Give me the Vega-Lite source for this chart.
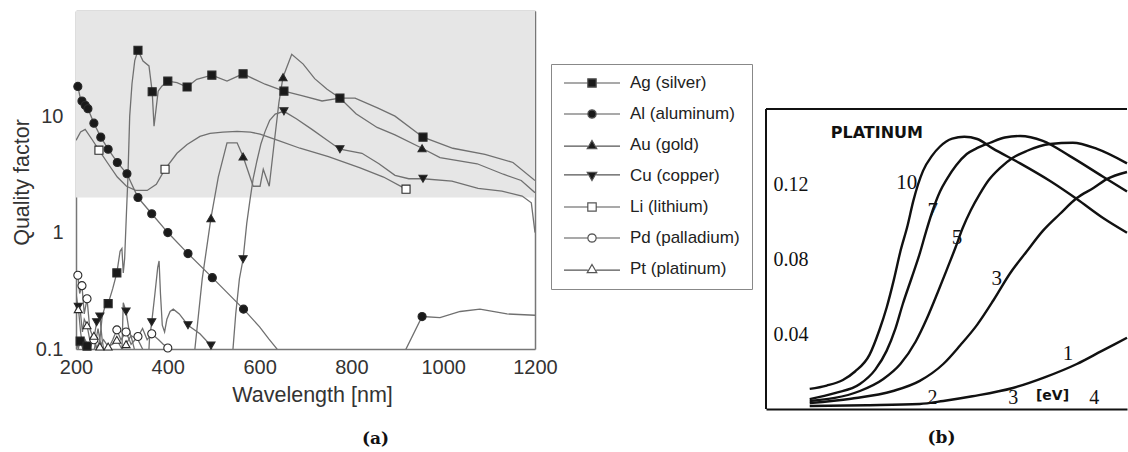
{
  "$schema": "https://vega.github.io/schema/vega-lite/v6.json",
  "background": "white",
  "padding": {"left": 11, "top": 1, "right": 0, "bottom": 0},
  "spacing": 231,
  "bounds": "flush",
  "config": {"view": {"stroke": null}, "font": "Liberation Sans", "axis": {"grid": false}},
  "datasets": {
    "qa": [
      {"s":"Ag (silver)","w":200,"q":0.12,"m":0},{"s":"Ag (silver)","w":205,"q":0.1,"m":0},{"s":"Ag (silver)","w":209,"q":0.117,"m":1},{"s":"Ag (silver)","w":215,"q":0.1,"m":0},{"s":"Ag (silver)","w":224,"q":0.106,"m":1},{"s":"Ag (silver)","w":232,"q":0.09,"m":0},{"s":"Ag (silver)","w":240,"q":0.1,"m":0},{"s":"Ag (silver)","w":248,"q":0.15,"m":0},{"s":"Ag (silver)","w":252,"q":0.12,"m":0},{"s":"Ag (silver)","w":257,"q":0.19,"m":0},{"s":"Ag (silver)","w":263,"q":0.23,"m":0},{"s":"Ag (silver)","w":270,"q":0.245,"m":1},{"s":"Ag (silver)","w":280,"q":0.33,"m":0},{"s":"Ag (silver)","w":289,"q":0.45,"m":1},{"s":"Ag (silver)","w":296,"q":0.69,"m":0},{"s":"Ag (silver)","w":300,"q":0.73,"m":0},{"s":"Ag (silver)","w":303,"q":0.45,"m":0},{"s":"Ag (silver)","w":306,"q":0.6,"m":0},{"s":"Ag (silver)","w":310,"q":1.5,"m":0},{"s":"Ag (silver)","w":313,"q":2.9,"m":0},{"s":"Ag (silver)","w":317,"q":10,"m":0},{"s":"Ag (silver)","w":322,"q":19,"m":0},{"s":"Ag (silver)","w":328,"q":30,"m":0},{"s":"Ag (silver)","w":335,"q":36.8,"m":1},{"s":"Ag (silver)","w":346,"q":29.7,"m":0},{"s":"Ag (silver)","w":359,"q":27,"m":0},{"s":"Ag (silver)","w":366,"q":16.2,"m":1},{"s":"Ag (silver)","w":370,"q":8.2,"m":0},{"s":"Ag (silver)","w":379,"q":16.4,"m":0},{"s":"Ag (silver)","w":387,"q":18.1,"m":0},{"s":"Ag (silver)","w":400,"q":20,"m":1},{"s":"Ag (silver)","w":420,"q":19.4,"m":0},{"s":"Ag (silver)","w":442,"q":17.8,"m":1},{"s":"Ag (silver)","w":463,"q":20.7,"m":0},{"s":"Ag (silver)","w":496,"q":22.5,"m":1},{"s":"Ag (silver)","w":529,"q":20,"m":0},{"s":"Ag (silver)","w":564,"q":23.1,"m":1},{"s":"Ag (silver)","w":612,"q":18.8,"m":0},{"s":"Ag (silver)","w":653,"q":16.4,"m":1},{"s":"Ag (silver)","w":692,"q":15,"m":0},{"s":"Ag (silver)","w":736,"q":13.5,"m":0},{"s":"Ag (silver)","w":775,"q":14.3,"m":1},{"s":"Ag (silver)","w":808,"q":14.3,"m":0},{"s":"Ag (silver)","w":858,"q":11.7,"m":0},{"s":"Ag (silver)","w":895,"q":10,"m":0},{"s":"Ag (silver)","w":956,"q":6.6,"m":1},{"s":"Ag (silver)","w":1021,"q":5.3,"m":0},{"s":"Ag (silver)","w":1091,"q":4.7,"m":0},{"s":"Ag (silver)","w":1152,"q":4.0,"m":0},{"s":"Ag (silver)","w":1200,"q":2.8,"m":0},
      {"s":"Al (aluminum)","w":200,"q":19.5,"m":0},{"s":"Al (aluminum)","w":204,"q":18,"m":1},{"s":"Al (aluminum)","w":209,"q":14.5,"m":0},{"s":"Al (aluminum)","w":213,"q":13.5,"m":1},{"s":"Al (aluminum)","w":220,"q":12.4,"m":1},{"s":"Al (aluminum)","w":226,"q":11.6,"m":1},{"s":"Al (aluminum)","w":239,"q":8.7,"m":1},{"s":"Al (aluminum)","w":254,"q":6.6,"m":1},{"s":"Al (aluminum)","w":270,"q":5.2,"m":1},{"s":"Al (aluminum)","w":290,"q":4.0,"m":1},{"s":"Al (aluminum)","w":311,"q":3.2,"m":1},{"s":"Al (aluminum)","w":335,"q":2.0,"m":1},{"s":"Al (aluminum)","w":365,"q":1.45,"m":1},{"s":"Al (aluminum)","w":400,"q":1.0,"m":1},{"s":"Al (aluminum)","w":444,"q":0.66,"m":1},{"s":"Al (aluminum)","w":497,"q":0.41,"m":1},{"s":"Al (aluminum)","w":565,"q":0.22,"m":1},{"s":"Al (aluminum)","w":600,"q":0.155,"m":0},{"s":"Al (aluminum)","w":620,"q":0.122,"m":0},{"s":"Al (aluminum)","w":638,"q":0.1,"m":0},{"s":"Al (aluminum)","w":645,"q":0.08,"m":0},{"s":"Al (aluminum)","w":913,"q":0.08,"m":0},{"s":"Al (aluminum)","w":919,"q":0.1,"m":0},{"s":"Al (aluminum)","w":954,"q":0.19,"m":1},{"s":"Al (aluminum)","w":993,"q":0.186,"m":0},{"s":"Al (aluminum)","w":1037,"q":0.21,"m":0},{"s":"Al (aluminum)","w":1080,"q":0.22,"m":0},{"s":"Al (aluminum)","w":1139,"q":0.2,"m":0},{"s":"Al (aluminum)","w":1200,"q":0.195,"m":0},
      {"s":"Au (gold)","w":455,"q":0.08,"m":0},{"s":"Au (gold)","w":459,"q":0.1,"m":0},{"s":"Au (gold)","w":475,"q":0.4,"m":0},{"s":"Au (gold)","w":494,"q":1.33,"m":1},{"s":"Au (gold)","w":510,"q":3,"m":0},{"s":"Au (gold)","w":529,"q":5.9,"m":0},{"s":"Au (gold)","w":551,"q":5.9,"m":0},{"s":"Au (gold)","w":564,"q":4.5,"m":1},{"s":"Au (gold)","w":586,"q":2.5,"m":0},{"s":"Au (gold)","w":601,"q":2.5,"m":0},{"s":"Au (gold)","w":608,"q":3.5,"m":0},{"s":"Au (gold)","w":621,"q":2.5,"m":0},{"s":"Au (gold)","w":632,"q":6,"m":0},{"s":"Au (gold)","w":642,"q":13,"m":0},{"s":"Au (gold)","w":651,"q":21.6,"m":1},{"s":"Au (gold)","w":670,"q":34,"m":0},{"s":"Au (gold)","w":695,"q":28,"m":0},{"s":"Au (gold)","w":720,"q":21,"m":0},{"s":"Au (gold)","w":747,"q":17,"m":0},{"s":"Au (gold)","w":775,"q":14.3,"m":0},{"s":"Au (gold)","w":810,"q":10.5,"m":0},{"s":"Au (gold)","w":856,"q":8.0,"m":0},{"s":"Au (gold)","w":895,"q":6.9,"m":0},{"s":"Au (gold)","w":954,"q":5.3,"m":1},{"s":"Au (gold)","w":993,"q":4.4,"m":0},{"s":"Au (gold)","w":1074,"q":3.9,"m":0},{"s":"Au (gold)","w":1131,"q":3.17,"m":0},{"s":"Au (gold)","w":1170,"q":2.8,"m":0},{"s":"Au (gold)","w":1200,"q":2.2,"m":0},
      {"s":"Cu (copper)","w":200,"q":0.22,"m":0},{"s":"Cu (copper)","w":205,"q":0.23,"m":1},{"s":"Cu (copper)","w":210,"q":0.14,"m":0},{"s":"Cu (copper)","w":215,"q":0.1,"m":0},{"s":"Cu (copper)","w":220,"q":0.12,"m":0},{"s":"Cu (copper)","w":230,"q":0.1,"m":0},{"s":"Cu (copper)","w":240,"q":0.13,"m":0},{"s":"Cu (copper)","w":245,"q":0.17,"m":1},{"s":"Cu (copper)","w":252,"q":0.19,"m":1},{"s":"Cu (copper)","w":257,"q":0.12,"m":0},{"s":"Cu (copper)","w":262,"q":0.09,"m":0},{"s":"Cu (copper)","w":268,"q":0.05,"m":0},{"s":"Cu (copper)","w":298,"q":0.05,"m":0},{"s":"Cu (copper)","w":303,"q":0.25,"m":0},{"s":"Cu (copper)","w":309,"q":0.21,"m":1},{"s":"Cu (copper)","w":315,"q":0.15,"m":0},{"s":"Cu (copper)","w":322,"q":0.12,"m":0},{"s":"Cu (copper)","w":330,"q":0.09,"m":0},{"s":"Cu (copper)","w":338,"q":0.05,"m":0},{"s":"Cu (copper)","w":355,"q":0.05,"m":0},{"s":"Cu (copper)","w":360,"q":0.12,"m":0},{"s":"Cu (copper)","w":365,"q":0.17,"m":1},{"s":"Cu (copper)","w":372,"q":0.3,"m":0},{"s":"Cu (copper)","w":378,"q":0.5,"m":0},{"s":"Cu (copper)","w":381,"q":0.57,"m":0},{"s":"Cu (copper)","w":384,"q":0.3,"m":0},{"s":"Cu (copper)","w":388,"q":0.16,"m":0},{"s":"Cu (copper)","w":393,"q":0.14,"m":0},{"s":"Cu (copper)","w":398,"q":0.18,"m":0},{"s":"Cu (copper)","w":405,"q":0.21,"m":0},{"s":"Cu (copper)","w":412,"q":0.22,"m":0},{"s":"Cu (copper)","w":425,"q":0.2,"m":0},{"s":"Cu (copper)","w":444,"q":0.16,"m":1},{"s":"Cu (copper)","w":470,"q":0.135,"m":0},{"s":"Cu (copper)","w":494,"q":0.107,"m":1},{"s":"Cu (copper)","w":500,"q":0.08,"m":0},{"s":"Cu (copper)","w":538,"q":0.08,"m":0},{"s":"Cu (copper)","w":542,"q":0.1,"m":0},{"s":"Cu (copper)","w":548,"q":0.2,"m":0},{"s":"Cu (copper)","w":556,"q":0.4,"m":0},{"s":"Cu (copper)","w":564,"q":0.59,"m":1},{"s":"Cu (copper)","w":572,"q":1.2,"m":0},{"s":"Cu (copper)","w":579,"q":1.9,"m":0},{"s":"Cu (copper)","w":586,"q":2.9,"m":0},{"s":"Cu (copper)","w":594,"q":4.1,"m":0},{"s":"Cu (copper)","w":603,"q":5.8,"m":0},{"s":"Cu (copper)","w":612,"q":7.4,"m":0},{"s":"Cu (copper)","w":622,"q":9.2,"m":0},{"s":"Cu (copper)","w":634,"q":10.4,"m":0},{"s":"Cu (copper)","w":653,"q":11,"m":1},{"s":"Cu (copper)","w":680,"q":9.5,"m":0},{"s":"Cu (copper)","w":714,"q":7.7,"m":0},{"s":"Cu (copper)","w":745,"q":6.3,"m":0},{"s":"Cu (copper)","w":775,"q":5.2,"m":1},{"s":"Cu (copper)","w":823,"q":4.8,"m":0},{"s":"Cu (copper)","w":860,"q":3.9,"m":0},{"s":"Cu (copper)","w":895,"q":3.1,"m":0},{"s":"Cu (copper)","w":925,"q":2.9,"m":0},{"s":"Cu (copper)","w":956,"q":2.9,"m":1},{"s":"Cu (copper)","w":1019,"q":2.77,"m":0},{"s":"Cu (copper)","w":1076,"q":2.4,"m":0},{"s":"Cu (copper)","w":1128,"q":2.27,"m":0},{"s":"Cu (copper)","w":1172,"q":2.06,"m":0},{"s":"Cu (copper)","w":1192,"q":1.8,"m":0},{"s":"Cu (copper)","w":1200,"q":1.0,"m":0},
      {"s":"Li (lithium)","w":200,"q":6.2,"m":0},{"s":"Li (lithium)","w":210,"q":7.3,"m":0},{"s":"Li (lithium)","w":220,"q":7.7,"m":0},{"s":"Li (lithium)","w":235,"q":6.3,"m":0},{"s":"Li (lithium)","w":250,"q":5.1,"m":1},{"s":"Li (lithium)","w":270,"q":3.9,"m":0},{"s":"Li (lithium)","w":290,"q":3.0,"m":0},{"s":"Li (lithium)","w":310,"q":2.5,"m":0},{"s":"Li (lithium)","w":330,"q":2.3,"m":0},{"s":"Li (lithium)","w":355,"q":2.3,"m":0},{"s":"Li (lithium)","w":375,"q":2.6,"m":0},{"s":"Li (lithium)","w":394,"q":3.5,"m":1},{"s":"Li (lithium)","w":420,"q":4.8,"m":0},{"s":"Li (lithium)","w":442,"q":5.7,"m":0},{"s":"Li (lithium)","w":470,"q":6.7,"m":0},{"s":"Li (lithium)","w":492,"q":7.1,"m":0},{"s":"Li (lithium)","w":520,"q":7.3,"m":0},{"s":"Li (lithium)","w":551,"q":7.4,"m":0},{"s":"Li (lithium)","w":580,"q":7.3,"m":0},{"s":"Li (lithium)","w":601,"q":7.0,"m":0},{"s":"Li (lithium)","w":640,"q":6.2,"m":0},{"s":"Li (lithium)","w":688,"q":5.3,"m":0},{"s":"Li (lithium)","w":750,"q":4.5,"m":0},{"s":"Li (lithium)","w":819,"q":3.6,"m":0},{"s":"Li (lithium)","w":870,"q":3.0,"m":0},{"s":"Li (lithium)","w":919,"q":2.36,"m":1},
      {"s":"Pd (palladium)","w":200,"q":0.45,"m":0},{"s":"Pd (palladium)","w":204,"q":0.43,"m":1},{"s":"Pd (palladium)","w":208,"q":0.3,"m":0},{"s":"Pd (palladium)","w":213,"q":0.35,"m":1},{"s":"Pd (palladium)","w":218,"q":0.2,"m":0},{"s":"Pd (palladium)","w":224,"q":0.27,"m":1},{"s":"Pd (palladium)","w":230,"q":0.15,"m":0},{"s":"Pd (palladium)","w":239,"q":0.12,"m":1},{"s":"Pd (palladium)","w":245,"q":0.1,"m":0},{"s":"Pd (palladium)","w":252,"q":0.12,"m":0},{"s":"Pd (palladium)","w":260,"q":0.09,"m":0},{"s":"Pd (palladium)","w":270,"q":0.1,"m":0},{"s":"Pd (palladium)","w":280,"q":0.12,"m":0},{"s":"Pd (palladium)","w":289,"q":0.146,"m":1},{"s":"Pd (palladium)","w":298,"q":0.12,"m":0},{"s":"Pd (palladium)","w":309,"q":0.14,"m":1},{"s":"Pd (palladium)","w":320,"q":0.11,"m":0},{"s":"Pd (palladium)","w":335,"q":0.128,"m":1},{"s":"Pd (palladium)","w":345,"q":0.15,"m":0},{"s":"Pd (palladium)","w":355,"q":0.12,"m":0},{"s":"Pd (palladium)","w":365,"q":0.135,"m":1},{"s":"Pd (palladium)","w":380,"q":0.12,"m":0},{"s":"Pd (palladium)","w":390,"q":0.11,"m":0},{"s":"Pd (palladium)","w":400,"q":0.102,"m":1},{"s":"Pd (palladium)","w":410,"q":0.08,"m":0},
      {"s":"Pt (platinum)","w":200,"q":0.3,"m":0},{"s":"Pt (platinum)","w":205,"q":0.22,"m":1},{"s":"Pt (platinum)","w":209,"q":0.22,"m":0},{"s":"Pt (platinum)","w":214,"q":0.14,"m":0},{"s":"Pt (platinum)","w":218,"q":0.18,"m":0},{"s":"Pt (platinum)","w":224,"q":0.16,"m":1},{"s":"Pt (platinum)","w":230,"q":0.12,"m":0},{"s":"Pt (platinum)","w":239,"q":0.13,"m":1},{"s":"Pt (platinum)","w":245,"q":0.1,"m":0},{"s":"Pt (platinum)","w":252,"q":0.105,"m":1},{"s":"Pt (platinum)","w":260,"q":0.12,"m":0},{"s":"Pt (platinum)","w":270,"q":0.105,"m":1},{"s":"Pt (platinum)","w":280,"q":0.11,"m":0},{"s":"Pt (platinum)","w":289,"q":0.12,"m":1},{"s":"Pt (platinum)","w":300,"q":0.1,"m":0},{"s":"Pt (platinum)","w":309,"q":0.11,"m":1},{"s":"Pt (platinum)","w":320,"q":0.13,"m":0},{"s":"Pt (platinum)","w":335,"q":0.12,"m":0},{"s":"Pt (platinum)","w":345,"q":0.1,"m":0},{"s":"Pt (platinum)","w":352,"q":0.08,"m":0}
    ],
    "pt": [
      {"c":"10","e":0.49,"v":0.0107},{"c":"10","e":0.7,"v":0.0125},{"c":"10","e":0.9,"v":0.0155},{"c":"10","e":1.05,"v":0.02},{"c":"10","e":1.23,"v":0.029},{"c":"10","e":1.35,"v":0.042},{"c":"10","e":1.44,"v":0.054},{"c":"10","e":1.53,"v":0.069},{"c":"10","e":1.61,"v":0.084},{"c":"10","e":1.7,"v":0.098},{"c":"10","e":1.77,"v":0.111},{"c":"10","e":1.89,"v":0.127},{"c":"10","e":2.0,"v":0.135},{"c":"10","e":2.1,"v":0.14},{"c":"10","e":2.25,"v":0.1442},{"c":"10","e":2.4,"v":0.1452},{"c":"10","e":2.56,"v":0.144},{"c":"10","e":2.75,"v":0.139},{"c":"10","e":3.09,"v":0.131},{"c":"10","e":3.46,"v":0.1216},{"c":"10","e":3.79,"v":0.112},{"c":"10","e":4.11,"v":0.102},{"c":"10","e":4.41,"v":0.094},
      {"c":"7","e":0.49,"v":0.0053},{"c":"7","e":0.8,"v":0.0085},{"c":"7","e":1.11,"v":0.0133},{"c":"7","e":1.3,"v":0.021},{"c":"7","e":1.44,"v":0.031},{"c":"7","e":1.55,"v":0.043},{"c":"7","e":1.64,"v":0.056},{"c":"7","e":1.75,"v":0.07},{"c":"7","e":1.85,"v":0.083},{"c":"7","e":1.93,"v":0.095},{"c":"7","e":2.01,"v":0.106},{"c":"7","e":2.1,"v":0.116},{"c":"7","e":2.19,"v":0.123},{"c":"7","e":2.3,"v":0.13},{"c":"7","e":2.43,"v":0.136},{"c":"7","e":2.55,"v":0.139},{"c":"7","e":2.72,"v":0.142},{"c":"7","e":2.9,"v":0.1448},{"c":"7","e":3.09,"v":0.1456},{"c":"7","e":3.37,"v":0.143},{"c":"7","e":3.7,"v":0.135},{"c":"7","e":4.11,"v":0.124},{"c":"7","e":4.41,"v":0.116},
      {"c":"5","e":0.49,"v":0.0043},{"c":"5","e":1.11,"v":0.0096},{"c":"5","e":1.4,"v":0.016},{"c":"5","e":1.61,"v":0.024},{"c":"5","e":1.8,"v":0.036},{"c":"5","e":1.94,"v":0.0485},{"c":"5","e":2.07,"v":0.062},{"c":"5","e":2.19,"v":0.075},{"c":"5","e":2.29,"v":0.086},{"c":"5","e":2.38,"v":0.0965},{"c":"5","e":2.48,"v":0.106},{"c":"5","e":2.59,"v":0.1146},{"c":"5","e":2.7,"v":0.122},{"c":"5","e":2.84,"v":0.1285},{"c":"5","e":3.0,"v":0.134},{"c":"5","e":3.17,"v":0.1376},{"c":"5","e":3.46,"v":0.1413},{"c":"5","e":3.74,"v":0.142},{"c":"5","e":4.04,"v":0.1387},{"c":"5","e":4.41,"v":0.131},
      {"c":"3","e":0.49,"v":0.0032},{"c":"3","e":1.0,"v":0.0055},{"c":"3","e":1.52,"v":0.0096},{"c":"3","e":1.85,"v":0.015},{"c":"3","e":2.14,"v":0.024},{"c":"3","e":2.35,"v":0.034},{"c":"3","e":2.56,"v":0.045},{"c":"3","e":2.76,"v":0.058},{"c":"3","e":2.96,"v":0.072},{"c":"3","e":3.17,"v":0.084},{"c":"3","e":3.37,"v":0.095},{"c":"3","e":3.58,"v":0.104},{"c":"3","e":3.79,"v":0.1125},{"c":"3","e":4.0,"v":0.118},{"c":"3","e":4.16,"v":0.1226},{"c":"3","e":4.41,"v":0.1264},
      {"c":"1","e":0.49,"v":0.0016},{"c":"1","e":1.2,"v":0.002},{"c":"1","e":1.85,"v":0.0027},{"c":"1","e":2.14,"v":0.0043},{"c":"1","e":2.5,"v":0.0068},{"c":"1","e":3.0,"v":0.0112},{"c":"1","e":3.4,"v":0.017},{"c":"1","e":3.79,"v":0.024},{"c":"1","e":4.1,"v":0.031},{"c":"1","e":4.41,"v":0.038}
    ],
    "ptlab": [
      {"t":"10","e":1.69,"v":0.1205},{"t":"7","e":2.01,"v":0.1056},{"t":"5","e":2.31,"v":0.091},{"t":"3","e":2.8,"v":0.0693},{"t":"1","e":3.68,"v":0.0293}
    ],
    "ptnote": [
      {"t":"PLATINUM","e":1.32,"v":0.147,"z":16},{"t":"[eV]","e":3.49,"v":0.0069,"z":14}
    ]
  },
  "hconcat": [
    {
      "width": 459,
      "height": 338,
      "title": {"text": "(a)", "orient": "bottom", "anchor": "middle", "dx": 70, "offset": 25, "font": "DejaVu Serif", "fontSize": 17, "fontWeight": "bold", "color": "#111"},
      "resolve": {"axis": {"x": "independent", "y": "independent"}, "scale": {"shape": "independent", "fill": "independent"}, "legend": {"shape": "independent", "fill": "independent"}},
      "layer": [
        {
          "data": {"values": [{}]},
          "mark": {"type": "rect", "fill": "#e6e6e6"},
          "encoding": {
            "x": {"datum": 200, "type": "quantitative", "scale": {"domain": [200, 1200], "nice": false, "zero": false},
              "axis": {"orient": "top", "values": [200,300,400,500,600,700,800,900,1000,1100,1200], "labels": false, "title": null, "tickSize": 0, "domainColor": "#777", "domainWidth": 1.5, "tickColor": "#777", "tickWidth": 1.5,
                "encode": {"ticks": {"update": {"y2": {"signal": "datum.value % 200 === 0 ? 7 : 4"}}}}}},
            "x2": {"datum": 1200},
            "y": {"datum": 2, "type": "quantitative", "scale": {"type": "log", "domain": [0.1, 80], "nice": false},
              "axis": {"orient": "right", "values": [0.1,0.2,0.3,0.4,0.5,0.6,0.7,0.8,0.9,1,2,3,4,5,6,7,8,9,10,20,30,40,50,60,70,80], "labels": false, "title": null, "tickSize": 0, "domainColor": "#777", "domainWidth": 1.5, "tickColor": "#777", "tickWidth": 1.2,
                "encode": {"ticks": {"update": {"x2": {"signal": "(datum.value == 0.1 || datum.value == 1 || datum.value == 10) ? -7 : -4"}}}}}},
            "y2": {"datum": 80}
          }
        },
        {
          "data": {"name": "qa"},
          "mark": {"type": "line", "clip": true, "color": "#707070", "strokeWidth": 1.3},
          "encoding": {
            "x": {"field": "w", "type": "quantitative",
              "axis": {"orient": "bottom", "values": [200,300,400,500,600,700,800,900,1000,1100,1200], "format": "d", "labelExpr": "datum.value % 200 === 0 ? datum.label : ''", "labelOverlap": false, "labelFlush": false, "title": "Wavelength [nm]", "tickSize": 0, "labelPadding": 8, "labelFontSize": 20, "labelColor": "#333", "labelFont": "Liberation Sans", "titleFont": "Liberation Sans", "titleFontSize": 21.5, "titleFontWeight": "normal", "titleColor": "#333", "titlePadding": 7, "titleX": 236, "domainColor": "#777", "domainWidth": 1.5, "tickColor": "#777", "tickWidth": 1.5,
                "encode": {"ticks": {"update": {"y2": {"signal": "datum.value % 200 === 0 ? -7 : -4"}}}}}},
            "y": {"field": "q", "type": "quantitative",
              "axis": {"orient": "left", "values": [0.1,0.2,0.3,0.4,0.5,0.6,0.7,0.8,0.9,1,2,3,4,5,6,7,8,9,10,20,30,40,50,60,70,80], "format": "~g", "labelExpr": "(datum.value == 0.1 || datum.value == 1 || datum.value == 10) ? datum.label : ''", "labelOverlap": false, "labelFlush": false, "title": "Quality factor", "tickSize": 0, "labelPadding": 13, "labelFontSize": 20, "labelColor": "#333", "labelFont": "Liberation Sans", "titleFont": "Liberation Sans", "titleFontSize": 21.5, "titleFontWeight": "normal", "titleColor": "#333", "titleX": -54, "titleY": 171, "titleBaseline": "middle", "titleAlign": "center", "titleAngle": -90, "domainColor": "#777", "domainWidth": 1.5, "tickColor": "#777", "tickWidth": 1.2,
                "encode": {"ticks": {"update": {"x2": {"signal": "(datum.value == 0.1 || datum.value == 1 || datum.value == 10) ? 7 : 4"}}}}}},
            "detail": {"field": "s"}
          }
        },
        {
          "data": {"name": "qa"},
          "transform": [{"filter": "datum.m == 1"}],
          "mark": {"type": "point", "size": 65, "stroke": "#2a2a2a", "strokeWidth": 1.1, "opacity": 1},
          "encoding": {
            "x": {"field": "w", "type": "quantitative", "axis": null},
            "y": {"field": "q", "type": "quantitative", "axis": null},
            "shape": {"field": "s", "type": "nominal", "legend": null,
              "scale": {"domain": ["Ag (silver)","Al (aluminum)","Au (gold)","Cu (copper)","Li (lithium)","Pd (palladium)","Pt (platinum)"], "range": ["square","circle","triangle-up","triangle-down","square","circle","triangle-up"]}},
            "fill": {"field": "s", "type": "nominal", "legend": null,
              "scale": {"domain": ["Ag (silver)","Al (aluminum)","Au (gold)","Cu (copper)","Li (lithium)","Pd (palladium)","Pt (platinum)"], "range": ["#1a1a1a","#1a1a1a","#1a1a1a","#1a1a1a","#ffffff","#ffffff","#ffffff"]}}
          }
        },
        {
          "data": {"name": "qa"},
          "transform": [{"filter": "datum.m == 1"}],
          "mark": {"type": "point", "size": 0, "stroke": "#555", "strokeWidth": 1.2, "opacity": 1},
          "encoding": {
            "x": {"field": "w", "type": "quantitative", "axis": null},
            "y": {"field": "q", "type": "quantitative", "axis": null},
            "shape": {"field": "s", "type": "nominal",
              "scale": {"domain": ["Ag (silver)","Al (aluminum)","Au (gold)","Cu (copper)","Li (lithium)","Pd (palladium)","Pt (platinum)"],
                "range": [
                  "M-1,0L-0.15,0M0.15,0L1,0M-0.15,-0.15L0.15,-0.15L0.15,0.15L-0.15,0.15Z",
                  "M-1,0L-0.15,0M0.15,0L1,0M0.15,0L0.13,0.075L0.075,0.13L0,0.15L-0.075,0.13L-0.13,0.075L-0.15,0L-0.13,-0.075L-0.075,-0.13L0,-0.15L0.075,-0.13L0.13,-0.075Z",
                  "M-1,0.04L-0.15,0.04M0.15,0.04L1,0.04M0,-0.16L0.17,0.13L-0.17,0.13Z",
                  "M-1,-0.04L-0.15,-0.04M0.15,-0.04L1,-0.04M0,0.16L0.17,-0.13L-0.17,-0.13Z",
                  "M-1,0L-0.15,0M0.15,0L1,0M-0.15,-0.15L0.15,-0.15L0.15,0.15L-0.15,0.15Z",
                  "M-1,0L-0.15,0M0.15,0L1,0M0.15,0L0.13,0.075L0.075,0.13L0,0.15L-0.075,0.13L-0.13,0.075L-0.15,0L-0.13,-0.075L-0.075,-0.13L0,-0.15L0.075,-0.13L0.13,-0.075Z",
                  "M-1,0.04L-0.15,0.04M0.15,0.04L1,0.04M0,-0.16L0.17,0.13L-0.17,0.13Z"
                ]},
              "legend": {"title": null, "orient": "none", "legendX": 475, "legendY": 53, "direction": "vertical", "strokeColor": "#888", "fillColor": "white", "padding": 12, "symbolSize": 3136, "symbolStrokeWidth": 1.2, "labelFont": "Liberation Sans", "labelFontSize": 17, "labelColor": "#222", "labelOffset": 9, "rowPadding": 14, "clipHeight": 14, "symbolOffset": 0,
                "encode": {"symbols": {"update": {"size": {"value": 3136}, "stroke": {"value": "#555"}, "strokeWidth": {"value": 1.2}}}}}},
            "fill": {"field": "s", "type": "nominal",
              "scale": {"domain": ["Ag (silver)","Al (aluminum)","Au (gold)","Cu (copper)","Li (lithium)","Pd (palladium)","Pt (platinum)"], "range": ["#1a1a1a","#1a1a1a","#1a1a1a","#1a1a1a","#ffffff","#ffffff","#ffffff"]}}
          }
        }
      ]
    },
    {
      "width": 361,
      "height": 398,
      "title": {"text": "(b)", "orient": "bottom", "anchor": "middle", "dx": -5, "offset": 19, "font": "DejaVu Serif", "fontSize": 17, "fontWeight": "bold", "color": "#111"},
      "layer": [
        {
          "data": {"name": "pt"},
          "mark": {"type": "line", "color": "#111", "strokeWidth": 2.4, "interpolate": "monotone"},
          "encoding": {
            "x": {"field": "e", "type": "quantitative", "scale": {"domain": [-0.05, 4.41], "nice": false, "zero": false},
              "axis": {"orient": "bottom", "values": [2, 3, 4], "format": "d", "title": null, "tickSize": 0, "labelPadding": -2, "labelBaseline": "bottom", "labelFont": "Liberation Serif", "labelFontSize": 20, "labelColor": "#111", "labelFlush": false, "domainColor": "#111", "domainWidth": 2, "tickColor": "#111", "tickWidth": 2,
                "encode": {"ticks": {"update": {"y2": {"value": -5}}}}}},
            "y": {"field": "v", "type": "quantitative", "scale": {"domain": [0, 0.21227], "nice": false},
              "axis": {"orient": "left", "values": [0.04, 0.08, 0.12], "format": ".2f", "title": null, "domain": false, "tickSize": 0, "labelPadding": -7, "labelAlign": "left", "labelBaseline": "middle", "labelFont": "Liberation Serif", "labelFontSize": 20, "labelColor": "#111", "tickColor": "#111", "tickWidth": 2,
                "encode": {"ticks": {"update": {"x2": {"value": 6}}}}}},
            "detail": {"field": "c"}
          }
        },
        {
          "data": {"values": [{}]},
          "mark": {"type": "rule", "color": "#111", "strokeWidth": 2},
          "encoding": {"x": {"datum": -0.05, "type": "quantitative"}, "y": {"datum": 0, "type": "quantitative"}, "y2": {"datum": 0.16}}
        },
        {
          "data": {"values": [{}]},
          "mark": {"type": "rule", "color": "#111", "strokeWidth": 2},
          "encoding": {"x": {"datum": -0.05, "type": "quantitative"}, "x2": {"datum": 4.41}, "y": {"datum": 0.16, "type": "quantitative"}}
        },
        {
          "data": {"name": "ptlab"},
          "mark": {"type": "text", "font": "Liberation Serif", "fontSize": 21, "color": "#111"},
          "encoding": {"x": {"field": "e", "type": "quantitative"}, "y": {"field": "v", "type": "quantitative"}, "text": {"field": "t"}}
        },
        {
          "data": {"name": "ptnote"},
          "mark": {"type": "text", "font": "DejaVu Sans", "fontWeight": "bold", "color": "#111"},
          "encoding": {"x": {"field": "e", "type": "quantitative"}, "y": {"field": "v", "type": "quantitative"}, "text": {"field": "t"}, "size": {"field": "z", "type": "quantitative", "scale": null}}
        }
      ]
    }
  ]
}
